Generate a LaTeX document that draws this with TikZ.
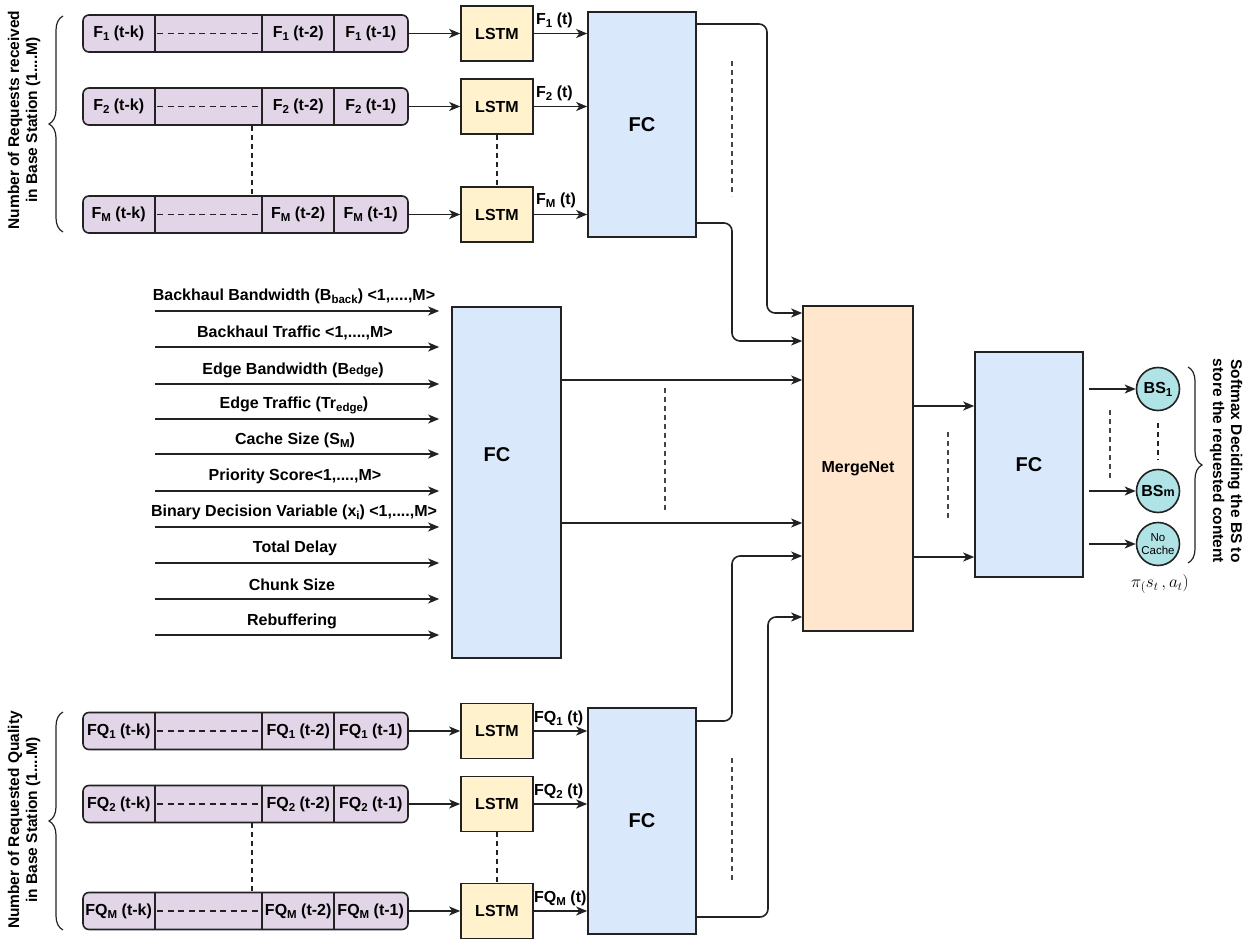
\documentclass[tikz,border=0pt]{standalone}
\usepackage{fontspec}
\setmainfont{Liberation Sans}
\usetikzlibrary{arrows.meta,decorations.pathreplacing}

\definecolor{linec}{HTML}{222222}
\definecolor{dashc}{HTML}{444444}
\definecolor{rowfill}{HTML}{E1D5E7}
\definecolor{lstmfill}{HTML}{FFF2CC}
\definecolor{fcfill}{HTML}{DAE8FC}
\definecolor{mergefill}{HTML}{FFE6CC}
\definecolor{outfill}{HTML}{B0E3E6}

% lowered small index and small inline text
\newcommand\dn[1]{\raisebox{-0.35ex}{\fontsize{11.5}{11.5}\selectfont #1}}
\newcommand\smtxt[1]{{\fontsize{12.5}{12.5}\selectfont #1}}

% one time-series row: name, y, symbol, index
\newcommand\seqrow[4]{%
  \node[rowbox] (#1) at (245.5,#2) {};
  \draw[ln] ([xshift=73pt]#1.north west) -- ([xshift=73pt]#1.south west);
  \draw[ln] ([xshift=180pt]#1.north west) -- ([xshift=180pt]#1.south west);
  \draw[ln] ([xshift=252pt]#1.north west) -- ([xshift=252pt]#1.south west);
  \draw[cellgap] ([xshift=75pt]#1.west) -- ([xshift=178pt]#1.west);
  \node (#1a) at ([xshift=36.5pt]#1.west) {#3\dn{#4} (t-k)};
  \node (#1b) at ([xshift=216pt]#1.west) {#3\dn{#4} (t-2)};
  \node (#1c) at ([xshift=288.5pt]#1.west) {#3\dn{#4} (t-1)};
}

\begin{document}
\begin{tikzpicture}[x=1pt,y=-1pt,
  every node/.style={font=\bfseries\fontsize{16}{18.5}\selectfont, inner sep=1pt},
  ln/.style={draw=linec, line width=1.6pt},
  arr/.style={ln, -{Stealth[length=11pt,width=9pt,inset=3pt]}},
  elbow/.style={arr, rounded corners=8pt},
  cellgap/.style={draw=linec, line width=1.3pt, dash pattern=on 6pt off 4.5pt},
  vgap/.style={draw=linec, line width=1.4pt, dash pattern=on 5pt off 4pt},
  layergap/.style={draw=dashc, line width=2pt, dash pattern=on 5pt off 4pt},
  rowbox/.style={ln, fill=rowfill, rounded corners=6pt, minimum width=325pt, minimum height=37pt, inner sep=0pt},
  lstmbox/.style={ln, fill=lstmfill, minimum width=72pt, minimum height=55pt, inner sep=0pt},
  fcbox/.style={ln, fill=fcfill, minimum width=108pt, inner sep=0pt, font=\bfseries\fontsize{20}{24}\selectfont},
  mergebox/.style={ln, fill=mergefill, minimum width=110pt, minimum height=325pt, inner sep=0pt, font=\bfseries\fontsize{16}{19}\selectfont},
  outnode/.style={circle, ln, fill=outfill, minimum size=43pt, inner sep=0pt},
  brc/.style={draw=linec, line width=1.2pt, decorate, decoration={brace, amplitude=14pt}},
  side/.style={align=center, font=\bfseries\fontsize{15.5}{18}\selectfont}
]
\useasboundingbox (0,0) rectangle (1251,939);

% ---------- request-count sequences ----------
\seqrow{r1}{33.5}{F}{1}
\seqrow{r2}{106.5}{F}{2}
\seqrow{rm}{214.5}{F}{M}
\node[lstmbox] (l1) at (497,33.5) {LSTM};
\node[lstmbox] (l2) at (497,106.5) {LSTM};
\node[lstmbox] (lm) at (497,214.5) {LSTM};
\node[fcbox, minimum height=225pt] (fc1) at (642,124.5) {FC};
\foreach \r/\l in {r1/l1, r2/l2, rm/lm} \draw[arr] (\r.east) -- (\l.west);
\draw[arr] (l1.east) -- (l1.east -| fc1.west);
\draw[arr] (l2.east) -- (l2.east -| fc1.west);
\draw[arr] (lm.east) -- (lm.east -| fc1.west);
\node[anchor=west] (o1) at (535,20) {F\dn{1} (t)};
\node[anchor=west] (o2) at (535,93) {F\dn{2} (t)};
\node[anchor=west] (om) at (535,200) {F\dn{M} (t)};
\draw[vgap] ([xshift=6.5pt]r2.south) -- ([xshift=6.5pt]rm.north);
\draw[vgap] (l2.south) -- (lm.north);
\draw[layergap] (732,61) -- (732,196);
\draw[brc] (63,232) -- (63,16);
\node[side, rotate=90] (reqlbl) at (24,120) {Number of Requests received\\in Base Station (1....M)};

% ---------- requested-quality sequences ----------
\seqrow{q1}{731}{FQ}{1}
\seqrow{q2}{804}{FQ}{2}
\seqrow{qm}{911}{FQ}{M}
\node[lstmbox] (k1) at (497,731) {LSTM};
\node[lstmbox] (k2) at (497,804) {LSTM};
\node[lstmbox] (km) at (497,911) {LSTM};
\node[fcbox, minimum height=226pt] (fc3) at (642,821) {FC};
\foreach \r/\l in {q1/k1, q2/k2, qm/km} \draw[arr] (\r.east) -- (\l.west);
\draw[arr] (k1.east) -- (k1.east -| fc3.west);
\draw[arr] (k2.east) -- (k2.east -| fc3.west);
\draw[arr] (km.east) -- (km.east -| fc3.west);
\node[anchor=west] (p1) at (533,718) {FQ\dn{1} (t)};
\node[anchor=west] (p2) at (533,791) {FQ\dn{2} (t)};
\node[anchor=west] (pm) at (533,898) {FQ\dn{M} (t)};
\draw[vgap] ([xshift=6.5pt]q2.south) -- ([xshift=6.5pt]qm.north);
\draw[vgap] (k2.south) -- (km.north);
\draw[layergap] (732,758) -- (732,880);
\draw[brc] (63,930) -- (63,712);
\node[side, rotate=90] (qlbl) at (24,820) {Number of Requested Quality\\in Base Station (1....M)};

% ---------- scalar state inputs ----------
\node[fcbox, minimum width=109pt, minimum height=351pt] (fcm) at (506.5,482.5) {};
\node[font=\bfseries\fontsize{20}{24}\selectfont] (fcmt) at (497,455) {FC};
\foreach \i/\y in {1/311,2/347,3/384,4/419,5/454,6/491,7/527,8/563,9/599,10/635}{
  \coordinate (in\i) at (155,\y);
  \draw[arr, shorten >=12pt] (in\i) -- (in\i -| fcm.west);
}
\node (t1) at (294,296) {Backhaul Bandwidth (B\dn{back}) <1,....,M>};
\node (t2) at (295,333) {Backhaul Traffic <1,....,M>};
\node (t3) at (293,370) {Edge Bandwidth (B\smtxt{edge})};
\node (t4) at (294,405) {Edge Traffic (Tr\dn{edge})};
\node (t5) at (295,440) {Cache Size (S\dn{M})};
\node (t6) at (295,476) {Priority Score<1,....,M>};
\node (t7) at (294,512) {Binary Decision Variable (x\dn{i}) <1,....,M>};
\node (t8) at (295,548) {Total Delay};
\node (t9) at (292,585) {Chunk Size};
\node (t10) at (292,621) {Rebuffering};

% ---------- merge and output ----------
\node[mergebox] (merge) at (858,468.5) {MergeNet};
\draw[elbow] (fc1.east |- 0,24) -- (767,24) -- (767,313) -- (merge.west |- 0,313);
\draw[elbow] (fc1.east |- 0,223) -- (732,223) -- (732,341) -- (merge.west |- 0,341);
\draw[arr] (fcm.east |- 0,380) -- (merge.west |- 0,380);
\draw[arr] (fcm.east |- 0,523) -- (merge.west |- 0,523);
\draw[layergap] (665,388) -- (665,512);
\draw[elbow] (fc3.east |- 0,721) -- (732,721) -- (732,556) -- (merge.west |- 0,556);
\draw[elbow] (fc3.east |- 0,917) -- (768,917) -- (768,617) -- (merge.west |- 0,617);

\node[fcbox, minimum height=225pt] (fcr) at (1029,464.5) {FC};
\draw[arr] (merge.east |- 0,406) -- (fcr.west |- 0,406);
\draw[arr] (merge.east |- 0,557) -- (fcr.west |- 0,557);
\draw[layergap] (948,432) -- (948,520);

\node[outnode] (bs1) at (1158,389) {BS\dn{1}};
\node[outnode] (bsm) at (1158,491) {BS\smtxt{m}};
\node[outnode, align=center, font=\mdseries\fontsize{11.5}{12.5}\selectfont] (nc) at (1158,544) {No\\Cache};
\draw[arr, shorten <=5pt] (fcr.east |- bs1) -- (bs1);
\draw[arr, shorten <=5pt] (fcr.east |- bsm) -- (bsm);
\draw[arr, shorten <=5pt] (fcr.east |- nc) -- (nc);
\draw[layergap] (1110,410) -- (1110,480);
\draw[vgap, shorten <=12pt, shorten >=9pt] (bs1.south) -- (bsm.north);
\draw[brc] (1188,367) -- (1188,563);
\node[side, rotate=-90] (softlbl) at (1226,461) {Softmax Deciding the BS to\\store the requested content};
\node[font=\mdseries\fontsize{17}{20}\selectfont] (pol) at (1160,584) {$\pi_( s_t\, , a_t)$};
\end{tikzpicture}
\end{document}
